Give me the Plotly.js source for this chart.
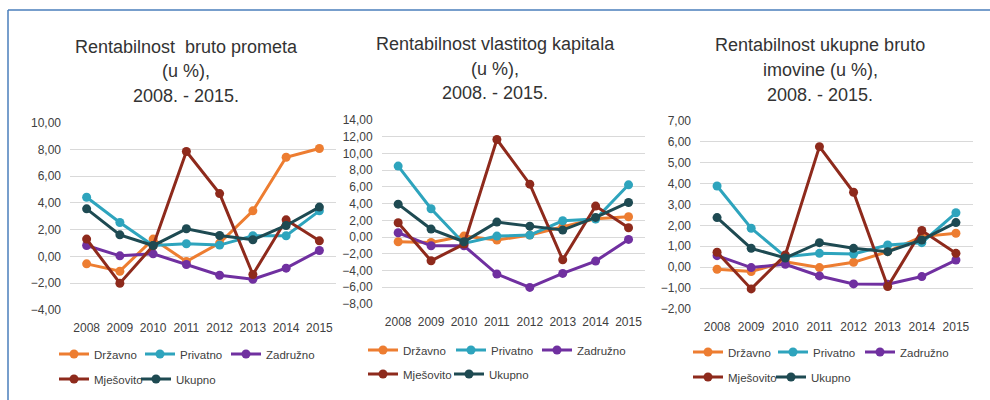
<!DOCTYPE html>
<html><head><meta charset="utf-8">
<script src="https://cdn.plot.ly/plotly-3.0.1.min.js"></script>
<style>html,body{margin:0;padding:0;background:#fff}#chart{width:990px;height:400px}</style>
</head><body><div id="chart"></div>
<script>
// ---------- DATA ----------
const years = ['2008','2009','2010','2011','2012','2013','2014','2015'];
const seriesNames = ['Državno','Privatno','Zadružno','Mješovito','Ukupno'];

const title1 = ['Rentabilnost  bruto prometa','(u %),','2008. - 2015.'];
const title2 = ['Rentabilnost vlastitog kapitala','(u %),','2008. - 2015.'];
const title3 = ['Rentabilnost ukupne bruto','imovine (u %),','2008. - 2015.'];

// Panel 1: Rentabilnost bruto prometa
const prometDrzavno   = [-0.55,-1.10, 1.30,-0.37, 1.00, 3.41, 7.42, 8.07];
const prometPrivatno  = [ 4.43, 2.54, 0.82, 0.95, 0.85, 1.55, 1.55, 3.41];
const prometZadruzno  = [ 0.82, 0.05, 0.20,-0.60,-1.40,-1.70,-0.87, 0.45];
const prometMjesovito = [ 1.30,-2.00, 0.80, 7.85, 4.70,-1.35, 2.74, 1.17];
const prometUkupno    = [ 3.56, 1.62, 0.82, 2.07, 1.57, 1.25, 2.32, 3.69];

// Panel 2: Rentabilnost vlastitog kapitala
const kapitalDrzavno   = [-0.56,-0.64, 0.12,-0.36, 0.24, 1.20, 2.20, 2.43];
const kapitalPrivatno  = [ 8.49, 3.39,-0.76, 0.12, 0.24, 1.95, 2.15, 6.25];
const kapitalZadruzno  = [ 0.52,-1.04,-1.04,-4.42,-6.02,-4.34,-2.87,-0.28];
const kapitalMjesovito = [ 1.71,-2.83,-0.84,11.67, 6.33,-2.71, 3.71, 1.12];
const kapitalUkupno    = [ 3.94, 0.96,-0.56, 1.79, 1.31, 0.84, 2.35, 4.14];

// Panel 3: Rentabilnost ukupne bruto imovine
const imovinaDrzavno   = [-0.10,-0.21, 0.26,-0.02, 0.23, 0.74, 1.46, 1.62];
const imovinaPrivatno  = [ 3.88, 1.86, 0.50, 0.66, 0.63, 1.06, 1.17, 2.60];
const imovinaZadruzno  = [ 0.55,-0.02, 0.14,-0.42,-0.80,-0.82,-0.45, 0.34];
const imovinaMjesovito = [ 0.71,-1.04, 0.58, 5.76, 3.58,-0.93, 1.75, 0.66];
const imovinaUkupno    = [ 2.37, 0.90, 0.44, 1.17, 0.90, 0.74, 1.30, 2.13];

// ---------- STYLE ----------
const colors = ['#ed7d31','#2ea4bd','#7030a0','#8e2a1c','#1e4a52'];
const FONT = '"Liberation Sans", Arial, sans-serif';
const TXT = '#404040';
const W = 990, H = 400;

// geometry (pixels); lw = legend entry widths per series (style only)
const plots = [
  {l:70,  r:336, t:122.7, b:310, range:[-4,10], dtick:2, tc:186, ty:[47,71,96],
   lx:54, ly:[354,379], lw:[41,41,55,37,50]},
  {l:381.7, r:645, t:120, b:304, range:[-8,14], dtick:2, tc:495, ty:[44,69,93],
   lx:363, ly:[350,374], lw:[43,41,55,41,50]},
  {l:700, r:973, t:120.7, b:309, range:[-2,7], dtick:1, tc:820, ty:[45,70,95],
   lx:688, ly:[352,377], lw:[40,42,55,38,50]}
];

const panels = [
  {series:[prometDrzavno,prometPrivatno,prometZadruzno,prometMjesovito,prometUkupno],
   xa:'x', ya:'y', leg:['legend','legend2'], title:title1},
  {series:[kapitalDrzavno,kapitalPrivatno,kapitalZadruzno,kapitalMjesovito,kapitalUkupno],
   xa:'x2', ya:'y2', leg:['legend3','legend4'], title:title2},
  {series:[imovinaDrzavno,imovinaPrivatno,imovinaZadruzno,imovinaMjesovito,imovinaUkupno],
   xa:'x3', ya:'y3', leg:['legend5','legend6'], title:title3}
];

const traces = [];
panels.forEach((p, k) => {
  p.series.forEach((vals, i) => {
    traces.push({
      type:'scatter', mode:'lines+markers', x:years, y:vals, name:seriesNames[i],
      xaxis:p.xa, yaxis:p.ya, legend: i < 3 ? p.leg[0] : p.leg[1],
      legendwidth: plots[k].lw[i],
      line:{color:colors[i], width:3}, marker:{color:colors[i], size:9},
      hoverinfo:'skip'
    });
  });
});

const layout = {
  width:W, height:H, margin:{l:0,r:0,t:0,b:0},
  paper_bgcolor:'#ffffff', plot_bgcolor:'#ffffff',
  separators:',.', showlegend:true,
  font:{family:FONT, color:TXT, size:12},
  annotations:[], shapes:[]
};

plots.forEach((g, k) => {
  const sfx = k === 0 ? '' : String(k+1);
  layout['xaxis'+sfx] = {
    domain:[g.l/W, g.r/W], anchor:'y'+sfx, type:'category',
    categoryorder:'array', categoryarray:years, range:[-0.5,7.5],
    showgrid:false, zeroline:false, showline:false, ticks:'', tickangle:0,
    tickfont:{family:FONT, size:12, color:TXT}, ticklabelstandoff:9, fixedrange:true
  };
  layout['yaxis'+sfx] = {
    domain:[1-g.b/H, 1-g.t/H], anchor:'x'+sfx, range:g.range, dtick:g.dtick, tick0:0,
    tickformat:'.2f', showgrid:true, gridcolor:'#d9d9d9', gridwidth:1,
    zeroline:false, showline:false, ticks:'',
    tickfont:{family:FONT, size:12, color:TXT}, ticklabelstandoff:8, fixedrange:true
  };
  panels[k].title.forEach((t, j) => {
    layout.annotations.push({
      text:t, xref:'paper', yref:'paper', x:g.tc/W, y:1-g.ty[j]/H,
      xanchor:'center', yanchor:'middle', showarrow:false,
      font:{family:FONT, size:18, color:'#333333'}
    });
  });
  panels[k].leg.forEach((name, j) => {
    layout[name] = {
      orientation:'h', xref:'paper', yref:'paper', x:g.lx/W, y:1-g.ly[j]/H,
      xanchor:'left', yanchor:'middle', bgcolor:'rgba(0,0,0,0)', borderwidth:0,
      font:{family:FONT, size:11.5, color:TXT}, entrywidthmode:'pixels',
      itemwidth:30, tracegroupgap:0, itemclick:false, itemdoubleclick:false
    };
  });
});

// blue frame (top and left edge)
layout.shapes.push({type:'line', xref:'paper', yref:'paper', x0:8/W, x1:1, y0:1-10/H, y1:1-10/H,
  line:{color:'#4a7ebb', width:1.5}});
layout.shapes.push({type:'line', xref:'paper', yref:'paper', x0:8/W, x1:8/W, y0:0, y1:1-10/H,
  line:{color:'#4a7ebb', width:1.5}});

Plotly.newPlot('chart', traces, layout, {staticPlot:true, displayModeBar:false});
</script>
</body></html>
